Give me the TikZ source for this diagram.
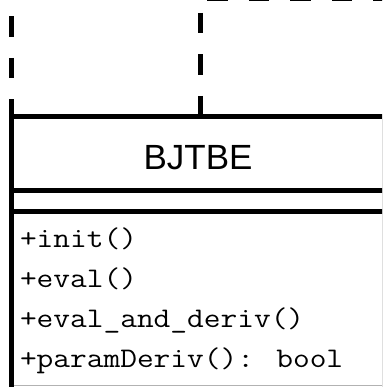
\documentclass[tikz,border=0pt]{standalone}
\usepackage{fontspec}
\usepackage{graphicx}
\newfontfamily\umlsans{Liberation Sans}
\begin{document}
\begin{tikzpicture}[x=1pt,y=-1pt,
  thickline/.style={line width=5pt,black},
  dashline/.style={line width=5pt,black,dash pattern=on 20.5pt off 21pt},
  classname/.style={anchor=base,inner sep=0pt,font=\umlsans\fontsize{35}{42}\selectfont},
  methodtext/.style={anchor=base west,inner sep=0pt,font=\ttfamily\fontsize{28.4}{34}\selectfont}]
\useasboundingbox (0,0) rectangle (382,387);
\clip (0,0) rectangle (382,387);
% connector end points
\coordinate (leftTop) at (11.5,-25);
\coordinate (midTop) at (200,-28.5);
\coordinate (topA) at (207,-1.5);
\coordinate (topB) at (400,-1.5);
% class box
\node[draw,thickline,rectangle,outer sep=0pt,inner sep=0pt,anchor=north west,
      minimum width=373pt,minimum height=272.5pt] (cls) at (11.5,117) {};
\coordinate (midJoin) at (200,117);
% dashed connectors
\draw[dashline] (leftTop) -- (cls.north west);
\draw[dashline] (midTop) -- (midJoin);
\draw[dashline] (topA) -- (topB);
% compartments
\draw[thickline] ([yshift=-73pt]cls.north west) -- ([yshift=-73pt]cls.north east);
\draw[thickline] ([yshift=-94pt]cls.north west) -- ([yshift=-94pt]cls.north east);
\draw[gray!60,line width=1pt] (14,385.5) -- (382,385.5);
% texts
\node[classname] (name) at (198,170) {BJTBE};
\node[methodtext] (m1) at (19.8,247) {\scalebox{1.143}[1]{+init()}};
\node[methodtext] (m2) at (19.8,287) {\scalebox{1.143}[1]{+eval()}};
\node[methodtext] (m3) at (19.8,327) {\scalebox{1.143}[1]{+eval\_and\_deriv()}};
\node[methodtext] (m4) at (19.8,367) {\scalebox{1.143}[1]{+paramDeriv(): bool}};
\end{tikzpicture}
\end{document}
